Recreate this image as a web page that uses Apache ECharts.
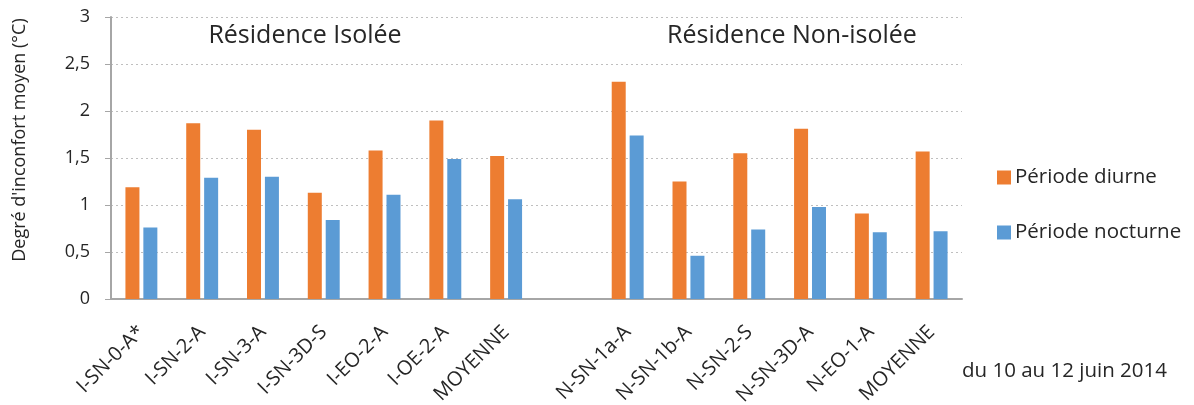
<!DOCTYPE html>
<html>
<head>
<meta charset="utf-8">
<script src="https://cdn.jsdelivr.net/npm/echarts@6/dist/echarts.min.js"></script>
<style>html,body{margin:0;padding:0;background:#fff}#c{width:1194px;height:405px}</style>
</head>
<body>
<div id="c"></div>
<script>
const categories = ['I-SN-0-A*','I-SN-2-A','I-SN-3-A','I-SN-3D-S','I-EO-2-A','I-OE-2-A','MOYENNE','',
  'N-SN-1a-A','N-SN-1b-A','N-SN-2-S','N-SN-3D-A','N-EO-1-A','MOYENNE '];
const diurne = [1.19,1.87,1.80,1.13,1.58,1.90,1.52,null,2.31,1.25,1.55,1.81,0.91,1.57];
const nocturne = [0.76,1.29,1.30,0.84,1.11,1.49,1.06,null,1.74,0.46,0.74,0.98,0.71,0.72];
const yTicks = [0,0.5,1,1.5,2,2.5,3];
const seriesNames = ['Période diurne','Période nocturne'];
const FONT = 'Open Sans';
const TXT = '#262626';
const chart = echarts.init(document.getElementById('c'));
chart.setOption({
  animation:false,
  textStyle:{fontFamily:FONT},
  title:[
    {text:'Résidence Isolée',left:305,top:23,padding:0,textAlign:'center',textStyle:{fontFamily:FONT,fontSize:25,fontWeight:'normal',color:TXT}},
    {text:'Résidence Non-isolée',left:792,top:23,padding:0,textAlign:'center',textStyle:{fontFamily:FONT,fontSize:25,fontWeight:'normal',color:TXT}},
    {text:'du 10 au 12 juin 2014',left:962,top:361,padding:0,textStyle:{fontFamily:FONT,fontSize:20.5,fontWeight:'normal',color:TXT}}
  ],
  graphic:[{
    type:'text',x:20,y:140,rotation:Math.PI/2,
    style:{text:"Degré d'inconfort moyen (°C)",fontFamily:FONT,fontSize:18,fill:TXT,align:'center',verticalAlign:'middle'}
  }],
  legend:{
    orient:'vertical',left:997,top:167,padding:0,itemWidth:14,itemHeight:14,itemGap:34,
    icon:'rect',
    textStyle:{fontFamily:FONT,fontSize:20.5,lineHeight:20,color:TXT,padding:[0,0,0,-1]},
    data:seriesNames
  },
  grid:{left:111,right:232,top:17,bottom:106,containLabel:false,outerBoundsMode:'none'},
  xAxis:{
    type:'category',data:categories,
    axisLine:{lineStyle:{color:'#A6A6A6',width:2}},
    axisTick:{show:false},
    axisLabel:{rotate:45,interval:0,margin:30,fontFamily:FONT,fontSize:20,color:TXT,
      formatter:v=>v.trim()}
  },
  yAxis:{
    type:'value',min:0,max:3,interval:0.5,
    axisLine:{show:true,lineStyle:{color:'#A6A6A6',width:2}},
    axisTick:{show:true,length:6,lineStyle:{color:'#A6A6A6',width:1}},
    axisLabel:{fontFamily:FONT,fontSize:18,color:TXT,margin:21,
      formatter:v=>String(v).replace('.',',')},
    splitLine:{lineStyle:{color:'#BFBFBF',type:[2,3],width:1}}
  },
  series:[
    {name:seriesNames[0],type:'bar',data:diurne,barWidth:14,barGap:'28%',itemStyle:{color:'#ED7D31'}},
    {name:seriesNames[1],type:'bar',data:nocturne,barWidth:14,itemStyle:{color:'#5B9BD5'}}
  ]
});
</script>
</body>
</html>
